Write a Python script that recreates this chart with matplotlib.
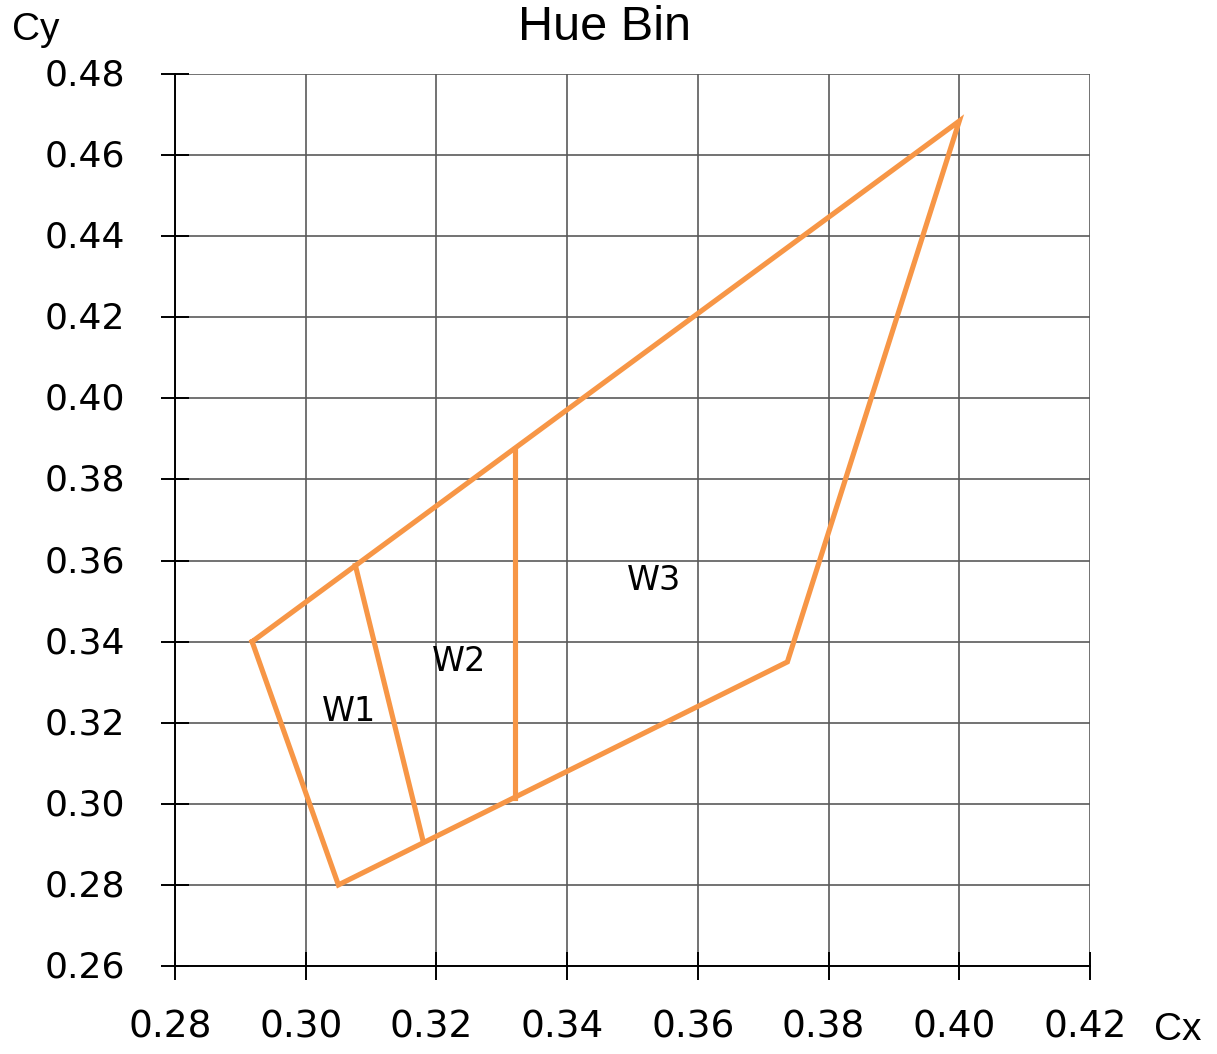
import matplotlib
matplotlib.use("Agg")
import matplotlib.pyplot as plt
import matplotlib.transforms as mtransforms

plt.rcParams['font.family'] = ['DejaVu Sans']

# Outer boundary of the hue bin (Cx, Cy)
outer_x = [0.2918, 0.4000, 0.3737, 0.3050, 0.2918]
outer_y = [0.3400, 0.4684, 0.3350, 0.2800, 0.3400]
# Divider W1/W2
div1_x = [0.3076, 0.3179]
div1_y = [0.3588, 0.2912]
# Divider W2/W3
div2_x = [0.3320, 0.3320]
div2_y = [0.3875, 0.3015]

labels = ["W1", "W2", "W3"]
label_x = [0.3066, 0.3234, 0.3533]
label_y = [0.3227, 0.3352, 0.3552]

xticks = [0.28, 0.30, 0.32, 0.34, 0.36, 0.38, 0.40, 0.42]
yticks = [0.26, 0.28, 0.30, 0.32, 0.34, 0.36, 0.38, 0.40, 0.42, 0.44, 0.46, 0.48]

orange = '#F79646'

fig = plt.figure(figsize=(12.17, 10.54), dpi=100)
ax = fig.add_axes([175/1217, 1-966/1054, (1090-175)/1217, (966-74)/1054])

ax.plot(outer_x, outer_y, color=orange, lw=3.7, solid_joinstyle='miter', zorder=3)
ax.plot(div1_x, div1_y, color=orange, lw=3.7, zorder=3)
ax.plot(div2_x, div2_y, color=orange, lw=3.7, zorder=3)

for t, x, y in zip(labels, label_x, label_y):
    ax.text(x, y, t, fontsize=24, ha='center', va='center', color='black', zorder=4)

ax.set_xlim(0.28, 0.42)
ax.set_ylim(0.26, 0.48)
ax.set_xticks(xticks)
ax.set_yticks(yticks)
ax.set_xticklabels([f"{v:.2f}" for v in xticks], fontsize=27)
ax.set_yticklabels([f"{v:.2f}" for v in yticks], fontsize=26)
ax.grid(True, color='#5a5a5a', lw=1.2, zorder=1)
ax.set_axisbelow(True)

for s in ['top', 'right']:
    ax.spines[s].set_visible(False)
for s in ['left', 'bottom']:
    ax.spines[s].set_color('black')
    ax.spines[s].set_linewidth(1.4)

ax.tick_params(axis='both', direction='inout', length=20, width=1.4, color='black')
ax.tick_params(axis='y', pad=26)
ax.tick_params(axis='x', pad=21)

# shift x tick labels slightly left, y labels slightly up as in reference
xoff = mtransforms.ScaledTranslation(-5/100, 0, fig.dpi_scale_trans)
for lab in ax.get_xticklabels():
    lab.set_transform(lab.get_transform() + xoff)
yoff = mtransforms.ScaledTranslation(0, 2/100, fig.dpi_scale_trans)
for lab in ax.get_yticklabels():
    lab.set_transform(lab.get_transform() + yoff)

fig.text(604/1217, 1-27/1054, "Hue Bin", fontsize=35, ha='center', va='center',
         family=['Liberation Sans', 'DejaVu Sans'])
fig.text(36/1217, 1-30/1054, "Cy", fontsize=28, ha='center', va='center',
         family=['Liberation Sans', 'DejaVu Sans'])
fig.text(1178/1217, 1-1030/1054, "Cx", fontsize=28, ha='center', va='center',
         family=['Liberation Sans', 'DejaVu Sans'])

fig.savefig("out.png", dpi=100, facecolor='white')
